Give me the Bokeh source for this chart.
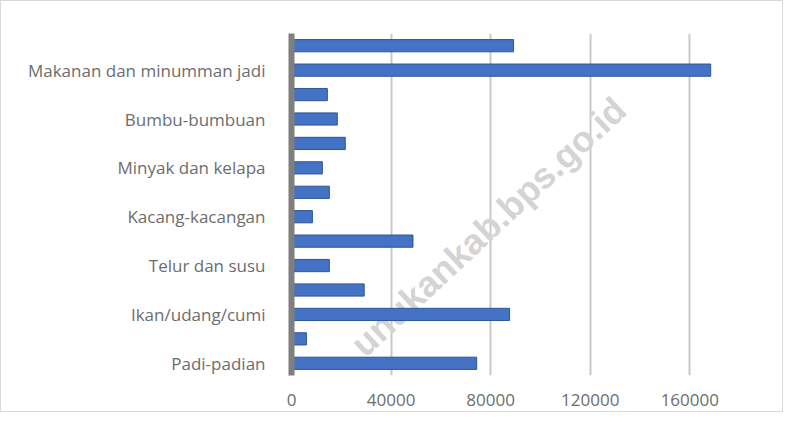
from bokeh.plotting import figure
from bokeh.models import FixedTicker, Range1d, Label, NumeralTickFormatter
from bokeh.embed import file_html
from bokeh.resources import INLINE

categories = ["Padi-padian", "Umbi-umbian", "Ikan/udang/cumi", "Daging",
              "Telur dan susu", "Sayur-sayuran", "Kacang-kacangan", "Buah-buahan",
              "Minyak dan kelapa", "Bahan minuman", "Bumbu-bumbuan", "Konsumsi lainnya",
              "Makanan dan minumman jadi", "Rokok dan tembakau"]
values = [74400, 6000, 87600, 29200, 15200, 48800, 8400, 15200,
          12400, 21600, 18400, 14400, 168400, 89200]
shown_labels = ["Padi-padian", "Ikan/udang/cumi", "Telur dan susu", "Kacang-kacangan",
                "Minyak dan kelapa", "Bumbu-bumbuan", "Makanan dan minumman jadi"]
x_ticks = [0, 40000, 80000, 120000, 160000]

idx = list(range(len(categories)))

p = figure(width=783, height=412, output_backend="svg", toolbar_location=None,
           x_range=Range1d(0, 188000), y_range=Range1d(-0.5, len(categories) - 0.5),
           min_border_left=290, min_border_right=25, min_border_top=32, min_border_bottom=38)
p.outline_line_color = None
p.styles = {"border": "1px solid #d9d9d9"}

wm = Label(x=486, y=224, x_units="canvas", y_units="canvas",
           text="unukankab.bps.go.id", angle=43, angle_units="deg",
           text_align="center", text_baseline="middle", text_font="Liberation Sans",
           text_font_style="bold", text_font_size="36px", text_color="#d4d4d4",
           level="underlay")
p.add_layout(wm)

p.hbar(y=idx, right=values, left=0, height=0.5, fill_color="#4472C4",
       line_color="#2F5597", line_width=1)

# y axis
p.yaxis.ticker = FixedTicker(ticks=[i for i, c in enumerate(categories) if c in shown_labels])
p.yaxis.major_label_overrides = {i: c for i, c in enumerate(categories)}
p.yaxis.major_tick_line_color = None
p.yaxis.minor_tick_line_color = None
p.yaxis.axis_line_color = "#7f7f7f"
p.yaxis.axis_line_width = 6
p.yaxis.major_label_standoff = 20
p.yaxis.major_label_text_font = "Open Sans"
p.yaxis.major_label_text_font_size = "17px"
p.yaxis.major_label_text_color = "#6d6d6d"

# x axis
p.xaxis.ticker = FixedTicker(ticks=x_ticks)
p.xaxis.formatter = NumeralTickFormatter(format="0")
p.xaxis.major_tick_line_color = None
p.xaxis.minor_tick_line_color = None
p.xaxis.axis_line_color = None
p.xaxis.major_label_standoff = 12
p.xaxis.major_label_text_font = "Open Sans"
p.xaxis.major_label_text_font_size = "17px"
p.xaxis.major_label_text_color = "#6d6d6d"

p.ygrid.grid_line_color = None
p.xgrid.grid_line_color = "#c9c9c9"
p.xgrid.grid_line_width = 2

open("out.html", "w").write(file_html(p, INLINE))
